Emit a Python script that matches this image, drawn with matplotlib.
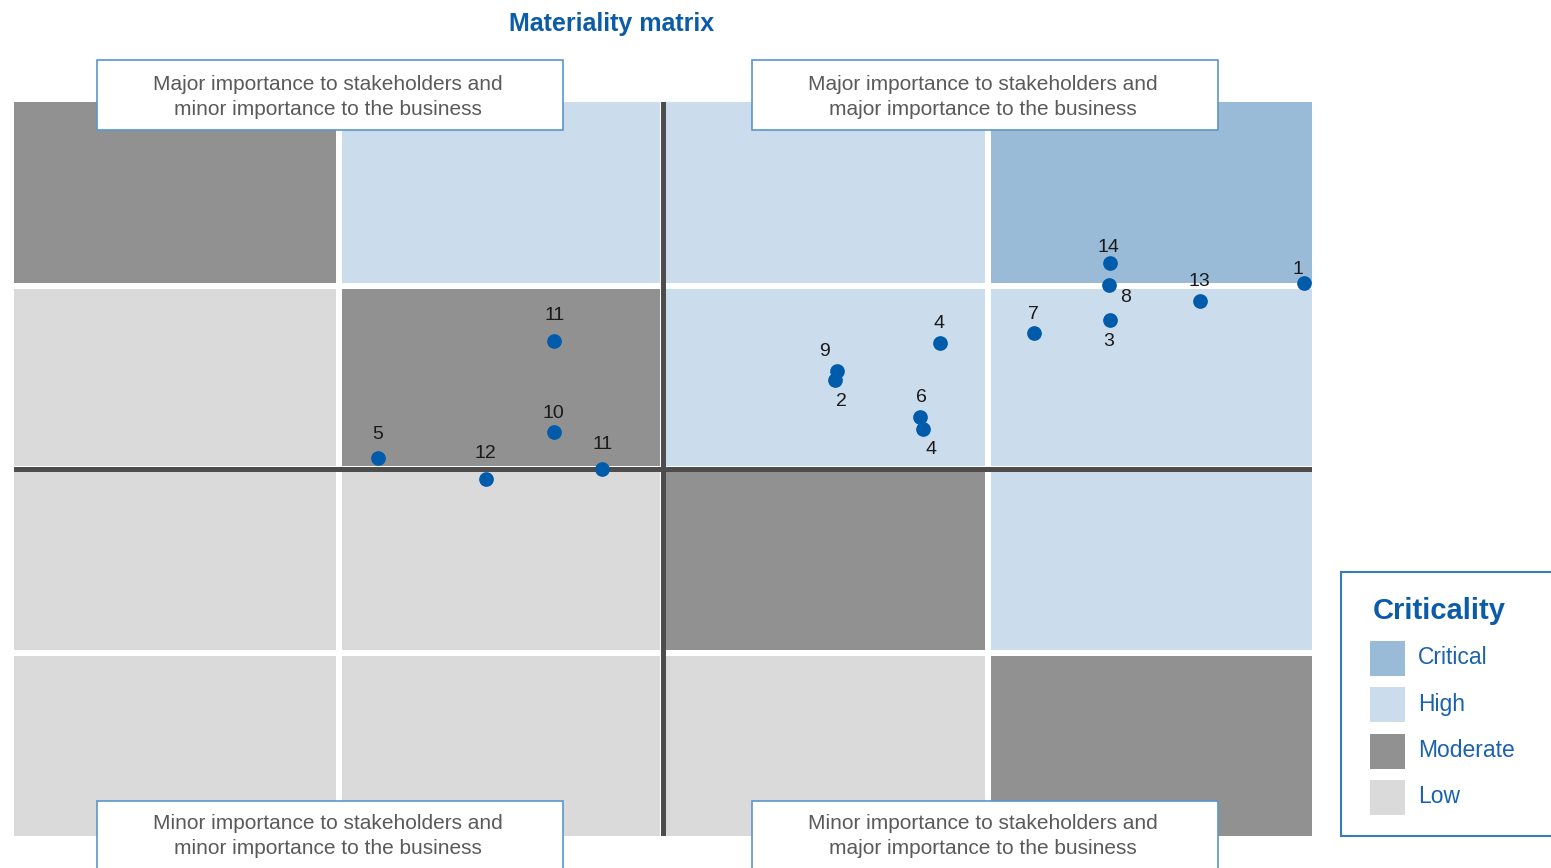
import matplotlib
matplotlib.use("Agg")
import matplotlib.pyplot as plt
from matplotlib.patches import Rectangle
from matplotlib.colors import ListedColormap
import numpy as np

plt.rcParams['font.family'] = ['Liberation Sans', 'DejaVu Sans']

# Criticality levels and their colours
levels = ["Critical", "High", "Moderate", "Low"]
level_colors = ["#99bbd8", "#cbdcec", "#919191", "#dadada"]

# Criticality of each cell, rows from top (major to stakeholders) to bottom
grid_rows = [
    ["Moderate", "High", "High", "Critical"],
    ["Low", "Moderate", "High", "High"],
    ["Low", "Low", "Moderate", "High"],
    ["Low", "Low", "Low", "Moderate"],
]

# Material topics: importance to the business (x) and to stakeholders (y)
topic_ids = ["11", "10", "5", "12", "11", "9", "2", "4", "6", "4",
             "7", "14", "8", "3", "13", "1"]
business = [1.665, 1.663, 1.121, 1.454, 1.811, 2.536, 2.531, 2.854, 2.793, 2.800,
            3.143, 3.376, 3.374, 3.378, 3.655, 3.975]
stakeholders = [2.699, 2.200, 2.058, 1.944, 2.000, 2.534, 2.483, 2.689, 2.283, 2.216,
                2.741, 3.121, 3.001, 2.812, 2.916, 3.016]

# Quadrant captions: top-left, top-right, bottom-left, bottom-right
quadrant_captions = [
    "Major importance to stakeholders and\nminor importance to the business",
    "Major importance to stakeholders and\nmajor importance to the business",
    "Minor importance to stakeholders and\nminor importance to the business",
    "Minor importance to stakeholders and\nmajor importance to the business",
]

title = "Materiality matrix"
legend_title = "Criticality"

# label placement (offset points) for each topic number
label_offsets = [(0, 18), (0, 13.7), (0, 17.3), (0, 18.7), (0.7, 18),
                 (-8.6, 13.7), (4.3, -15), (-1, 13.7), (0.5, 14), (5.9, -14.4),
                 (-0.6, 13.5), (-0.5, 11.3), (12.1, -8.9), (-1.3, -15.5),
                 (-0.5, 14), (-4.2, 9.6)]

W, H = 1551, 868
fig = plt.figure(figsize=(W / 100, H / 100), dpi=100)
fig.patch.set_facecolor("white")

# ---- matrix axes ----
ax = fig.add_axes([14 / W, 1 - 836 / H, 1298 / W, 734 / H])
ax.set_xlim(0, 4)
ax.set_ylim(0, 4)
ax.axis("off")

codes = np.array([[levels.index(c) for c in row] for row in grid_rows[::-1]])
cmap = ListedColormap(level_colors)
ax.pcolormesh(np.arange(5), np.arange(5), codes, cmap=cmap,
              vmin=-0.5, vmax=len(levels) - 0.5, zorder=0)

gap = 6 * 72 / 100
for k in (1, 2, 3):
    ax.axvline(k, color="white", lw=gap, zorder=1)
    ax.axhline(k, color="white", lw=gap, zorder=1)

ax.axvline(2, color="#4d4d4d", lw=5 * 72 / 100, zorder=2)
ax.axhline(2, color="#4d4d4d", lw=5 * 72 / 100, zorder=2)

ax.scatter(business, stakeholders, s=112, color="#005bab", zorder=4,
           linewidths=0, clip_on=False)
for tid, bx, sy, off in zip(topic_ids, business, stakeholders, label_offsets):
    ax.annotate(tid, (bx, sy), xytext=off, textcoords="offset points",
                ha="center", va="center", fontsize=14, color="#1a1a1a",
                zorder=5, annotation_clip=False)

# ---- overlay in pixel units for captions and legend ----
ov = fig.add_axes([0, 0, 1, 1], zorder=5)
ov.set_xlim(0, W)
ov.set_ylim(H, 0)
ov.axis("off")
ov.patch.set_alpha(0)

fig.text(612 / W, 1 - 24 / H, title, ha="center", va="center",
         fontsize=18, fontweight="bold", color="#0b5ca8")

box_edge = "#5a96cd"
boxes = [(97, 60, 97), (752, 60, 97), (97, 801, 836), (752, 801, 836)]
for caption, (bx, by, ty) in zip(quadrant_captions, boxes):
    ov.add_patch(Rectangle((bx, by), 466, 70 if by < 400 else 90,
                           facecolor="white", edgecolor=box_edge, lw=1.2,
                           zorder=6))
    ov.text(bx + 231, ty, caption, ha="center", va="center", fontsize=15,
            color="#5a5a5a", linespacing=1.4, zorder=7)

# legend
ov.add_patch(Rectangle((1341, 572), 260, 264, facecolor="white",
                       edgecolor="#3a7abf", lw=1.5, zorder=6))
ov.text(1373, 611, legend_title, ha="left", va="center", fontsize=21,
        fontweight="bold", color="#0b5ca8", zorder=7)
for i, (lvl, col) in enumerate(zip(levels, level_colors)):
    top = 641 + i * 46.3
    ov.add_patch(Rectangle((1370, top), 35, 35, facecolor=col,
                           edgecolor="none", zorder=7))
    ov.text(1418, top + 17, lvl, ha="left", va="center", fontsize=16.5,
            color="#1a62ae", zorder=7)

fig.savefig("out.png", dpi=100)
